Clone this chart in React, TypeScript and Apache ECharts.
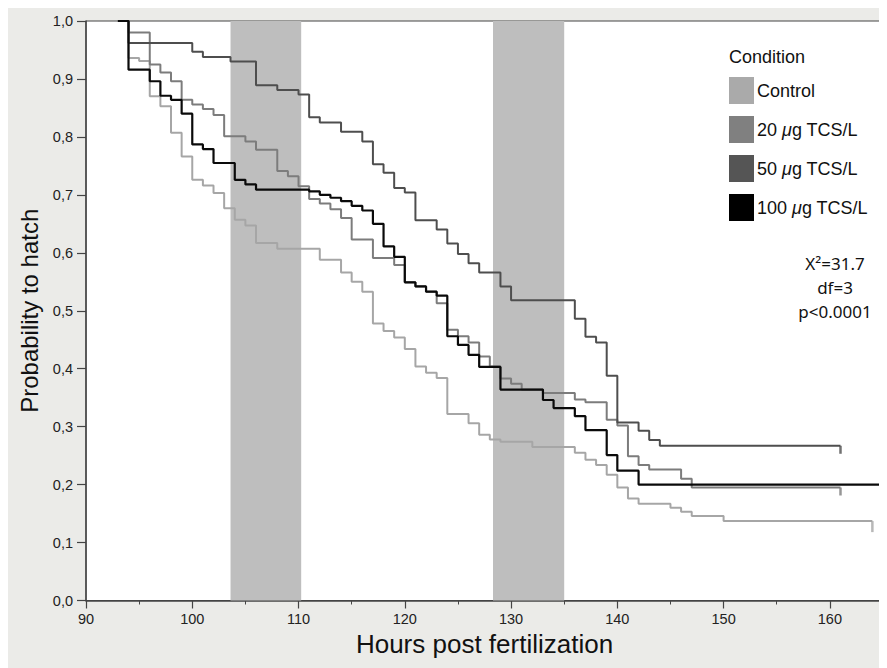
import React, { useEffect, useRef } from "react";
import * as echarts from "echarts";

// ---- data ----
const seriesNames = ["Control", "20 μg TCS/L", "50 μg TCS/L", "100 μg TCS/L"];
const seriesColors = ["#a6a6a6", "#7c7c7c", "#4e4e4e", "#0a0a0a"];
const legendColors = ["#aaaaaa", "#808080", "#555555", "#000000"];

const controlTimes = [93, 94, 95, 96, 97, 98, 99, 100, 101, 102, 103, 104, 105, 106, 108, 112, 114, 115, 116, 117, 118, 119, 120, 121, 122, 123, 124, 126, 127, 128, 129, 132, 136, 137, 138, 139, 140, 141, 142, 145, 146, 147, 150, 164];
const controlProb = [1.0, 0.936, 0.931, 0.87, 0.853, 0.807, 0.766, 0.726, 0.716, 0.703, 0.677, 0.657, 0.647, 0.617, 0.607, 0.588, 0.566, 0.55, 0.533, 0.478, 0.465, 0.454, 0.434, 0.404, 0.393, 0.384, 0.322, 0.306, 0.286, 0.278, 0.274, 0.265, 0.255, 0.243, 0.234, 0.217, 0.195, 0.176, 0.167, 0.16, 0.153, 0.146, 0.137, 0.137];

const tcs20Times = [93, 94, 96, 97, 98, 99, 100, 101, 102, 103, 105, 106, 108, 109, 110, 111, 112, 113, 114, 115, 117, 119, 120, 121, 122, 123, 124, 125, 126, 127, 128, 129, 130, 131, 133, 136, 137, 139, 140, 141, 142, 143, 146, 147, 161];
const tcs20Prob = [1.0, 0.98, 0.925, 0.911, 0.896, 0.864, 0.856, 0.848, 0.838, 0.801, 0.792, 0.778, 0.741, 0.732, 0.715, 0.693, 0.685, 0.675, 0.66, 0.623, 0.591, 0.579, 0.549, 0.542, 0.533, 0.513, 0.467, 0.456, 0.445, 0.421, 0.404, 0.383, 0.374, 0.364, 0.358, 0.347, 0.342, 0.312, 0.302, 0.249, 0.234, 0.226, 0.21, 0.195, 0.195];

const tcs50Times = [93, 94, 100, 101, 103.6, 106, 108, 110, 111, 112, 114, 116, 117, 118, 119, 120, 121, 123, 124, 125, 126, 127, 129, 130, 136, 137, 138, 139, 140, 142, 143, 144, 161];
const tcs50Prob = [1.0, 0.962, 0.947, 0.938, 0.93, 0.889, 0.881, 0.873, 0.834, 0.825, 0.809, 0.792, 0.753, 0.738, 0.712, 0.704, 0.656, 0.64, 0.616, 0.598, 0.582, 0.566, 0.542, 0.518, 0.486, 0.455, 0.445, 0.388, 0.307, 0.293, 0.277, 0.267, 0.267];

const tcs100Times = [93, 94, 96, 97, 98, 99, 100, 101, 102, 104, 105, 106, 111, 112, 113, 114, 115, 116, 117, 118, 119, 120, 121, 122, 123, 124, 125, 126, 127, 129, 133, 134, 136, 137, 139, 140, 142, 165];
const tcs100Prob = [1.0, 0.916, 0.896, 0.871, 0.864, 0.84, 0.787, 0.779, 0.755, 0.726, 0.718, 0.709, 0.706, 0.7, 0.695, 0.689, 0.681, 0.673, 0.65, 0.611, 0.593, 0.549, 0.542, 0.533, 0.526, 0.456, 0.441, 0.424, 0.403, 0.364, 0.346, 0.332, 0.318, 0.294, 0.251, 0.224, 0.2, 0.2];

const censorTimes = [164, 161, 161, 165];
const bandRanges = [
  [103.6, 110.25],
  [128.3, 135.0],
];
const xMin = 90;
const xMax = 165;
const xInterval = 10;
const yMin = 0;
const yMax = 1;
const yInterval = 0.1;
const statLines = ["X²=31.7", "df=3", "p<0.0001"];

const allTimes = [controlTimes, tcs20Times, tcs50Times, tcs100Times];
const allProbs = [controlProb, tcs20Prob, tcs50Prob, tcs100Prob];

const FONT = '"Liberation Sans", Arial, Helvetica, sans-serif';

export default function App() {
  const ref = useRef<HTMLDivElement>(null);

  useEffect(() => {
    if (!ref.current) return;
    const chart = echarts.init(ref.current, undefined, { renderer: "svg" });

    const lineSeries = seriesNames.map((name, i) => ({
      name,
      type: "line",
      step: "end",
      symbol: "none",
      silent: true,
      z: 3 + i,
      color: legendColors[i],
      lineStyle: { color: seriesColors[i], width: i === 3 ? 2.2 : 2 },
      emphasis: { disabled: true },
      data: allTimes[i].map((t, k) => [t, allProbs[i][k]]),
    }));

    const censorSeries = seriesNames.map((name, i) => ({
      name: name + " censor",
      type: "scatter",
      silent: true,
      z: 3 + i,
      symbol: "rect",
      symbolSize: i === 0 ? [2.5, 11] : [2.5, 8],
      symbolOffset: [0, i === 0 ? 5.5 : 4],
      itemStyle: { color: seriesColors[i] },
      data: [[censorTimes[i], allProbs[i][allProbs[i].length - 1]]],
    }));

    const bandSeries = {
      name: "bands",
      type: "line",
      z: 1,
      silent: true,
      data: [],
      markArea: {
        silent: true,
        itemStyle: { color: "#bebebe", opacity: 1 },
        data: bandRanges.map(([a, b]) => [{ xAxis: a }, { xAxis: b }]),
      },
    };

    const option: any = {
      animation: false,
      backgroundColor: "#ebebe8",
      grid: {
        left: 78,
        right: 4,
        top: 13,
        bottom: 67.5,
        show: true,
        backgroundColor: "#ffffff",
        borderColor: "#444",
        borderWidth: 1,
      },
      xAxis: {
        type: "value",
        min: xMin,
        max: xMax,
        interval: xInterval,
        name: "Hours post fertilization",
        nameLocation: "middle",
        nameGap: 29,
        nameTextStyle: { fontSize: 26, fontFamily: FONT, color: "#111" },
        axisLine: { show: true, onZero: false, lineStyle: { color: "#444", width: 1.5 } },
        axisTick: { show: true, length: 8, lineStyle: { color: "#444", width: 1.2 } },
        minorTick: { show: true, splitNumber: 2, length: 4, lineStyle: { color: "#444", width: 1 } },
        axisLabel: { fontSize: 14.5, fontFamily: FONT, color: "#222", margin: 11, showMaxLabel: false },
        splitLine: { show: false },
        minorSplitLine: { show: false },
      },
      yAxis: {
        type: "value",
        min: yMin,
        max: yMax,
        interval: yInterval,
        name: "Probability to hatch",
        nameLocation: "middle",
        nameGap: 38,
        nameRotate: 90,
        nameTextStyle: { fontSize: 24, fontFamily: FONT, color: "#111" },
        axisLine: { show: true, onZero: false, lineStyle: { color: "#444", width: 1.5 } },
        axisTick: { show: true, length: 9, lineStyle: { color: "#444", width: 1.2 } },
        axisLabel: {
          fontSize: 14.5,
          fontFamily: FONT,
          color: "#222",
          margin: 13,
          formatter: (v: number) => v.toFixed(1).replace(".", ","),
        },
        splitLine: { show: false },
      },
      legend: {
        data: seriesNames,
        orient: "vertical",
        left: 721,
        top: 69,
        padding: 0,
        itemWidth: 25,
        itemHeight: 27,
        itemGap: 12,
        icon: "rect",
        selectedMode: false,
        itemStyle: { borderWidth: 0 },
        textStyle: {
          fontSize: 18,
          fontFamily: FONT,
          color: "#111",
          padding: [0, 0, 0, -2],
          rich: {
            i: { fontSize: 18, fontFamily: FONT, color: "#111", fontStyle: "italic" },
          },
        },
        formatter: (name: string) => name.replace("μ", "{i|μ}"),
      },
      graphic: [
        {
          type: "text",
          left: 721,
          top: 40,
          silent: true,
          style: { text: "Condition", font: `18px ${FONT}`, fill: "#111" },
        },
        ...statLines.map((s, k) => ({
          type: "text",
          silent: true,
          x: 827,
          y: 255 + k * 24.4,
          style: {
            text: s,
            font: '17px "Noto Sans", sans-serif',
            fill: "#111",
            textAlign: "center",
            textVerticalAlign: "middle",
          },
        })),
      ],
      series: [bandSeries, ...lineSeries, ...censorSeries],
    };

    chart.setOption(option);
    return () => chart.dispose();
  }, []);

  return <div ref={ref} style={{ width: 879, height: 660 }} />;
}
